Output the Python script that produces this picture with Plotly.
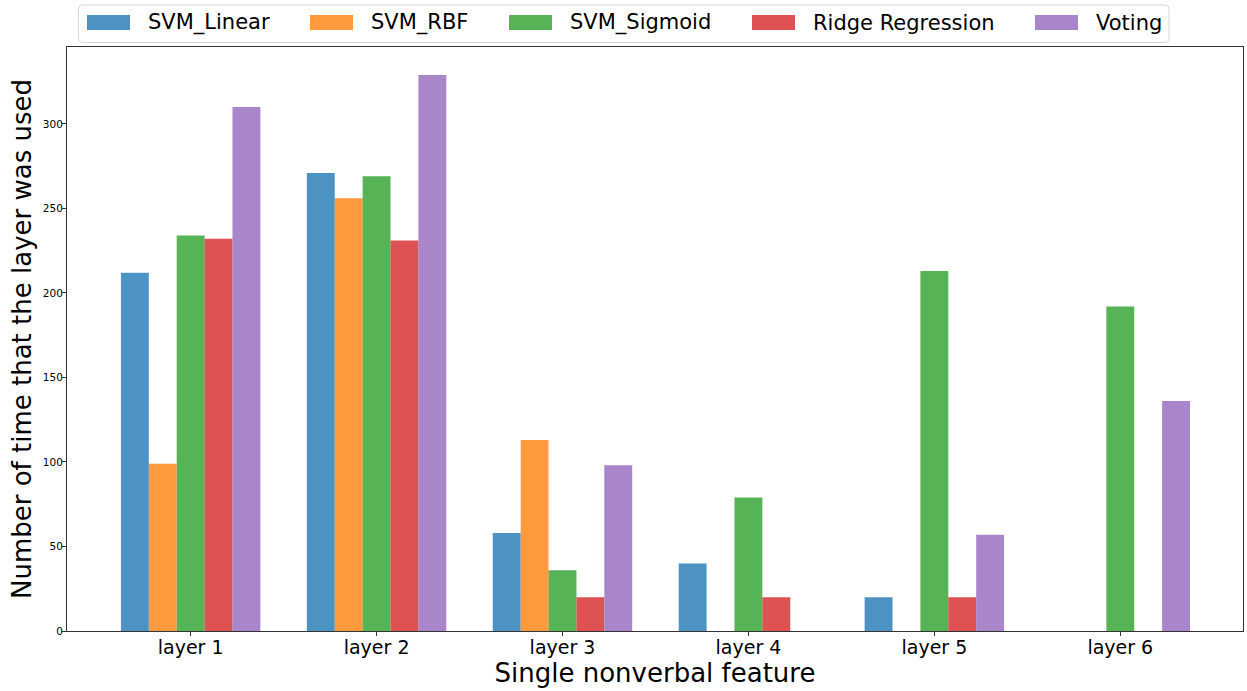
import plotly.graph_objects as go

layers = ["layer 1", "layer 2", "layer 3", "layer 4", "layer 5", "layer 6"]
series_names = ["SVM_Linear", "SVM_RBF", "SVM_Sigmoid", "Ridge Regression", "Voting"]
svm_linear = [212, 271, 58, 40, 20, 0]
svm_rbf = [99, 256, 113, 0, 0, 0]
svm_sigmoid = [234, 269, 36, 79, 213, 192]
ridge = [232, 231, 20, 20, 20, 0]
voting = [310, 329, 98, 0, 57, 136]
y_ticks = [0, 50, 100, 150, 200, 250, 300]

series_values = [svm_linear, svm_rbf, svm_sigmoid, ridge, voting]
colors = ["rgba(31,119,180,0.8)", "rgba(255,127,14,0.8)", "rgba(44,160,44,0.8)",
          "rgba(214,39,40,0.8)", "rgba(148,103,189,0.8)"]

W, H = 1247, 691
L, R, T, B = 67, 4, 47, 60
PW, PH = W - L - R, H - T - B


def px(x):
    return (x - L) / PW


def py(y):
    return (H - B - y) / PH


xpos = list(range(len(layers)))
fig = go.Figure()
for name, vals, c in zip(series_names, series_values, colors):
    fig.add_trace(go.Bar(x=xpos, y=vals, name=name, showlegend=False,
                         marker=dict(color=c, line=dict(width=0))))

font = "DejaVu Sans, sans-serif"

# legend drawn as a framed row of swatches and labels
shapes = []
annotations = []
x0, x1, y0, y1, r = 78.5, 1169, 5, 42.5, 4
path = (f"M {px(x0 + r)} {py(y0)} L {px(x1 - r)} {py(y0)} "
        f"Q {px(x1)} {py(y0)} {px(x1)} {py(y0 + r)} L {px(x1)} {py(y1 - r)} "
        f"Q {px(x1)} {py(y1)} {px(x1 - r)} {py(y1)} L {px(x0 + r)} {py(y1)} "
        f"Q {px(x0)} {py(y1)} {px(x0)} {py(y1 - r)} L {px(x0)} {py(y0 + r)} "
        f"Q {px(x0)} {py(y0)} {px(x0 + r)} {py(y0)} Z")
shapes.append(dict(type="path", xref="paper", yref="paper", path=path,
                   line=dict(color="#d6d6d6", width=1), fillcolor="white", layer="above"))
swatch_left = [87, 310, 509, 752, 1035]
for sx, name, c in zip(swatch_left, series_names, colors):
    shapes.append(dict(type="rect", xref="paper", yref="paper",
                       x0=px(sx), x1=px(sx + 43), y0=py(15), y1=py(30),
                       fillcolor=c, line=dict(width=0), layer="above"))
    annotations.append(dict(text=name, xref="paper", yref="paper", x=px(sx + 59), y=py(22.5),
                            xanchor="left", yanchor="middle", showarrow=False,
                            font=dict(size=21, family=font, color="black")))

fig.update_layout(
    width=W, height=H,
    barmode="group", bargap=0.25, bargroupgap=0,
    plot_bgcolor="white", paper_bgcolor="white",
    margin=dict(l=L, r=R, t=T, b=B, autoexpand=False),
    font=dict(family=font, color="black"),
    showlegend=False,
    shapes=shapes, annotations=annotations,
    xaxis=dict(range=[-0.665, 5.66], tickvals=xpos, ticktext=layers, tickfont=dict(size=19),
               ticks="outside", ticklen=4, tickcolor="#333", showline=True, linecolor="#333",
               linewidth=1, mirror=True, showgrid=False, zeroline=False, automargin=False,
               ticklabelstandoff=-5,
               title=dict(text="Single nonverbal feature", font=dict(size=26), standoff=4)),
    yaxis=dict(range=[0, 345.5], tickvals=y_ticks, tickfont=dict(size=10.5),
               ticks="outside", ticklen=4, tickcolor="#333", showline=True, linecolor="#333",
               linewidth=1, mirror=True, showgrid=False, zeroline=False, automargin=False,
               ticklabelstandoff=-3,
               title=dict(text="Number of time that the layer was used", font=dict(size=26), standoff=3)),
)
fig.write_html("out.html", config={"displayModeBar": False},
               post_script="document.body.style.margin='0px';document.body.style.overflow='hidden';")
